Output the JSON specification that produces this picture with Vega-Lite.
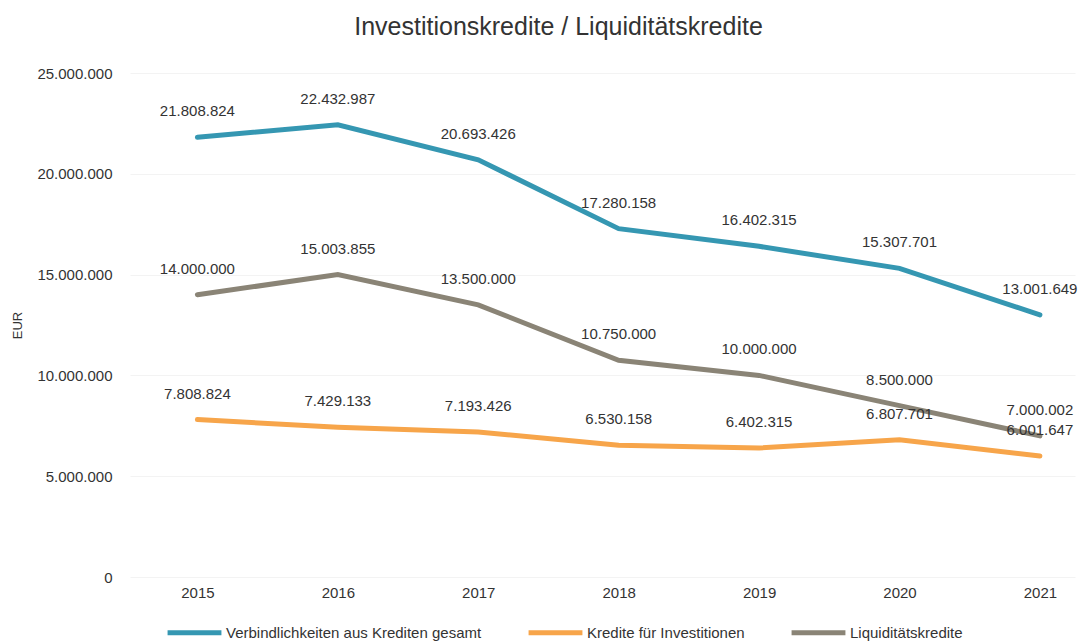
{
  "$schema": "https://vega.github.io/schema/vega-lite/v6.json",
  "width": 945,
  "height": 504,
  "autosize": {"type": "none"},
  "padding": {"left": 130, "top": 73, "right": 10, "bottom": 65},
  "background": "white",
  "config": {
    "locale": {"number": {"decimal": ",", "thousands": ".", "grouping": [3], "currency": ["", " €"]}},
    "font": "Liberation Sans",
    "view": {"stroke": null}
  },
  "title": {
    "text": "Investitionskredite / Liquiditätskredite",
    "fontSize": 25,
    "fontWeight": "normal",
    "color": "#333333",
    "anchor": "middle",
    "frame": "group",
    "dx": -44,
    "offset": 26
  },
  "data": {
    "values": [
      {"Jahr": 2015, "Reihe": "Verbindlichkeiten aus Krediten gesamt", "Wert": 21808824},
      {"Jahr": 2016, "Reihe": "Verbindlichkeiten aus Krediten gesamt", "Wert": 22432987},
      {"Jahr": 2017, "Reihe": "Verbindlichkeiten aus Krediten gesamt", "Wert": 20693426},
      {"Jahr": 2018, "Reihe": "Verbindlichkeiten aus Krediten gesamt", "Wert": 17280158},
      {"Jahr": 2019, "Reihe": "Verbindlichkeiten aus Krediten gesamt", "Wert": 16402315},
      {"Jahr": 2020, "Reihe": "Verbindlichkeiten aus Krediten gesamt", "Wert": 15307701},
      {"Jahr": 2021, "Reihe": "Verbindlichkeiten aus Krediten gesamt", "Wert": 13001649},
      {"Jahr": 2015, "Reihe": "Kredite für Investitionen", "Wert": 7808824},
      {"Jahr": 2016, "Reihe": "Kredite für Investitionen", "Wert": 7429133},
      {"Jahr": 2017, "Reihe": "Kredite für Investitionen", "Wert": 7193426},
      {"Jahr": 2018, "Reihe": "Kredite für Investitionen", "Wert": 6530158},
      {"Jahr": 2019, "Reihe": "Kredite für Investitionen", "Wert": 6402315},
      {"Jahr": 2020, "Reihe": "Kredite für Investitionen", "Wert": 6807701},
      {"Jahr": 2021, "Reihe": "Kredite für Investitionen", "Wert": 6001647},
      {"Jahr": 2015, "Reihe": "Liquiditätskredite", "Wert": 14000000},
      {"Jahr": 2016, "Reihe": "Liquiditätskredite", "Wert": 15003855},
      {"Jahr": 2017, "Reihe": "Liquiditätskredite", "Wert": 13500000},
      {"Jahr": 2018, "Reihe": "Liquiditätskredite", "Wert": 10750000},
      {"Jahr": 2019, "Reihe": "Liquiditätskredite", "Wert": 10000000},
      {"Jahr": 2020, "Reihe": "Liquiditätskredite", "Wert": 8500000},
      {"Jahr": 2021, "Reihe": "Liquiditätskredite", "Wert": 7000002}
    ]
  },
  "encoding": {
    "x": {
      "field": "Jahr",
      "type": "quantitative",
      "scale": {"domain": [2014.52, 2021.25], "nice": false, "zero": false},
      "axis": {
        "values": [2015, 2016, 2017, 2018, 2019, 2020, 2021],
        "format": "d",
        "title": null,
        "grid": false,
        "domain": false,
        "ticks": false,
        "labelFontSize": 15,
        "labelColor": "#333333",
        "labelPadding": 8
      }
    },
    "y": {
      "field": "Wert",
      "type": "quantitative",
      "scale": {"domain": [0, 25000000], "nice": false},
      "axis": {
        "values": [0, 5000000, 10000000, 15000000, 20000000, 25000000],
        "format": ",d",
        "title": "EUR",
        "titleFontSize": 13,
        "titleFontWeight": "normal",
        "titleColor": "#333333",
        "titlePadding": 12,
        "grid": true,
        "gridColor": "#f3f3f3",
        "domain": false,
        "ticks": false,
        "labelFontSize": 15,
        "labelColor": "#333333",
        "labelPadding": 18
      }
    },
    "color": {
      "field": "Reihe",
      "type": "nominal",
      "scale": {
        "domain": ["Verbindlichkeiten aus Krediten gesamt", "Kredite für Investitionen", "Liquiditätskredite"],
        "range": ["#3597b2", "#f7a54a", "#8a8476"]
      },
      "legend": {
        "title": null,
        "orient": "none",
        "legendX": 35,
        "legendY": 530,
        "direction": "horizontal",
        "symbolType": "stroke",
        "symbolSize": 2900,
        "symbolStrokeWidth": 5,
        "labelFontSize": 15,
        "labelLimit": 400,
        "labelColor": "#333333",
        "columnPadding": 36,
        "labelOffset": 2
      }
    }
  },
  "layer": [
    {
      "mark": {"type": "line", "strokeWidth": 5, "strokeCap": "round"}
    },
    {
      "mark": {"type": "text", "dy": -26, "fontSize": 15, "color": "#333333"},
      "encoding": {
        "text": {"field": "Wert", "type": "quantitative", "format": ",d"},
        "color": {"value": "#333333"}
      }
    }
  ]
}
